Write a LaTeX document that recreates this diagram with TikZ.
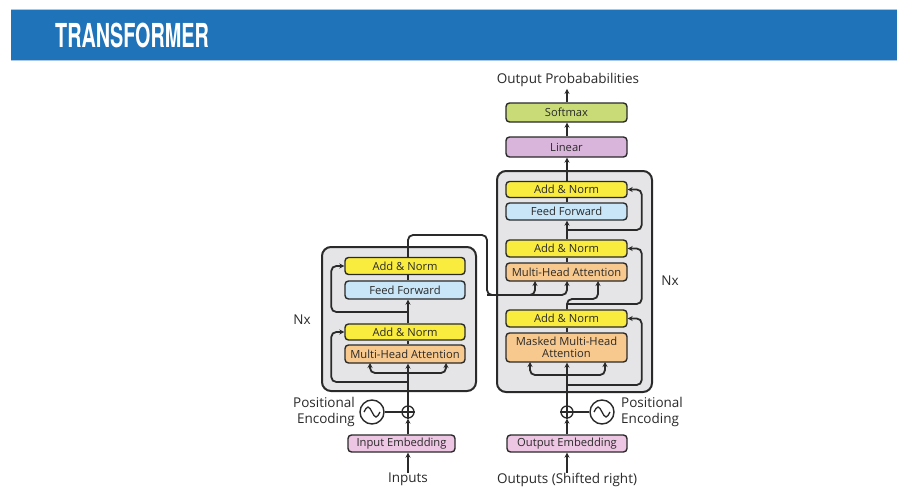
\documentclass[tikz,border=0pt]{standalone}
\usepackage{graphicx}
\usepackage{fontspec}
\setmainfont{Open Sans}
\newfontfamily\headfont{TeX Gyre Heros}
\usetikzlibrary{arrows.meta}

\definecolor{banner}{RGB}{31,115,185}
\definecolor{banneredge}{RGB}{170,200,230}
\definecolor{ink}{RGB}{42,42,42}
\definecolor{panel}{RGB}{229,229,231}
\definecolor{addnorm}{RGB}{250,236,62}
\definecolor{ffwd}{RGB}{200,230,248}
\definecolor{attn}{RGB}{248,201,142}
\definecolor{embed}{RGB}{236,198,226}
\definecolor{lin}{RGB}{217,181,219}
\definecolor{smax}{RGB}{200,219,118}

\tikzset{
  panelbox/.style={draw=ink, fill=panel, line width=2pt, rounded corners=9pt, inner sep=0pt},
  layer/.style={draw=ink, line width=1.4pt, rounded corners=3.5pt, minimum width=120pt,
    minimum height=17pt, inner sep=0pt, text=ink, font=\fontsize{11.2}{11.5}\selectfont, align=center},
  label/.style={text=ink, font=\fontsize{13.5}{16}\selectfont, inner sep=0pt},
  wire/.style={draw=ink, line width=1.8pt, rounded corners=5pt},
  arr/.style={wire, -{Stealth[length=5pt,width=5pt]}},
  adder/.style={circle, draw=ink, line width=1.3pt, minimum size=12pt, inner sep=0pt},
  wave/.style={circle, draw=ink, line width=1.4pt, minimum size=24pt, inner sep=0pt},
}

\begin{document}
\begin{tikzpicture}[x=1pt,y=-1pt]
\useasboundingbox (0,0) rectangle (897,487);
\fill[white] (0,0) rectangle (897,487);

% title banner
\fill[banner] (11,9) rectangle (897,60);
\draw[banneredge, line width=0.8pt] (11,9) -- (897,9) (11,60) -- (897,60);
\node[anchor=west, text=white, inner sep=0pt] (title) at (55,35)
  {\scalebox{0.6}[1]{\fontsize{33}{33}\headfont\bfseries TRANSFORMER}};

% ---------------- encoder ----------------
\node[panelbox, minimum width=154pt, minimum height=144pt] (encpanel) at (399,319) {};
\node[layer, fill=addnorm] (eAN2) at (405,266) {Add \& Norm};
\node[layer, fill=ffwd, minimum height=18pt] (eFF) at (405,290) {Feed Forward};
\node[layer, fill=addnorm, minimum height=16pt] (eAN1) at (405,332) {Add \& Norm};
\node[layer, fill=attn, minimum height=18pt] (eMHA) at (405,354) {Multi-Head Attention};
\node[layer, fill=embed, minimum width=107pt] (eEmb) at (401.5,443.5) {Input Embedding};
\node[adder] (ePlus) at (408,412) {};
\draw[ink, line width=1.2pt] (ePlus.north) -- (ePlus.south) (ePlus.west) -- (ePlus.east);
\node[wave] (ePE) at (372,412) {};
\draw[ink, line width=1.3pt] ([xshift=-8pt]ePE.center) sin ++(4,-5) cos ++(4,5) sin ++(4,5) cos ++(4,-5);
\node[label, anchor=east, align=right] (ePEtxt) at (355,412) {Positional\\Encoding};
\node[label] (eIn) at (408,479.5) {Inputs};
\node[label] (eNx) at (302,320) {Nx};

% ---------------- decoder ----------------
\node[panelbox, minimum width=155pt, minimum height=221pt] (decpanel) at (574.5,281.5) {};
\node[layer, fill=addnorm, minimum width=121pt, minimum height=16pt] (dAN3) at (566.5,189.5) {Add \& Norm};
\node[layer, fill=ffwd, minimum width=121pt] (dFF) at (566.5,211.5) {Feed Forward};
\node[layer, fill=addnorm, minimum width=121pt] (dAN2) at (566.5,248.5) {Add \& Norm};
\node[layer, fill=attn, minimum width=121pt, minimum height=18pt] (dMHA) at (566.5,272) {Multi-Head Attention};
\node[layer, fill=addnorm, minimum width=121pt] (dAN1) at (566.5,318.5) {Add \& Norm};
\node[layer, fill=attn, minimum width=121pt, minimum height=29pt,
      font=\fontsize{11.2}{12}\selectfont] (dMMHA) at (566.5,347.5) {Masked Multi-Head\\Attention};
\node[layer, fill=lin, minimum width=121pt, minimum height=20pt] (dLin) at (566.5,147) {Linear};
\node[layer, fill=smax, minimum width=121pt, minimum height=19pt] (dSm) at (566.5,112.5) {Softmax};
\node[label] (dProb) at (568,80) {Output Probababilities};
\node[layer, fill=embed] (dEmb) at (567,443.5) {Output Embedding};
\node[adder] (dPlus) at (567,412) {};
\draw[ink, line width=1.2pt] (dPlus.north) -- (dPlus.south) (dPlus.west) -- (dPlus.east);
\node[wave] (dPE) at (602,412) {};
\draw[ink, line width=1.3pt] ([xshift=-8pt]dPE.center) sin ++(4,-5) cos ++(4,5) sin ++(4,5) cos ++(4,-5);
\node[label, anchor=west, align=left] (dPEtxt) at (621,412) {Positional\\Encoding};
\node[label] (dOut) at (567,479.5) {Outputs (Shifted right)};
\node[label] (dNx) at (670,281) {Nx};

% ---------------- encoder wiring ----------------
\coordinate (eBr) at (408,373);
\coordinate (eQ) at (370,363);
\coordinate (eV) at (446,363);
\coordinate (eR1) at (408,382);
\coordinate (eR2) at (408,312);
\draw[arr] (eIn.north) -- (eIn |- eEmb.south);
\draw[arr] (ePlus |- eEmb.north) -- (ePlus.south);
\draw[wire] (ePE.east) -- (ePlus.west);
\draw[arr] (ePlus.north) -- (ePlus |- eMHA.south);
\draw[arr] (eBr) -| (eQ);
\draw[arr] (eBr) -| (eV);
\draw[arr] (eR1) -| ([xshift=-13pt]eAN1.west) -- (eAN1.west);
\draw[wire] (ePlus |- eMHA.north) -- (ePlus |- eAN1.south);
\draw[arr] (ePlus |- eAN1.north) -- (ePlus |- eFF.south);
\draw[arr] (eR2) -| ([xshift=-13pt]eAN2.west) -- (eAN2.west);
\draw[wire] (ePlus |- eFF.north) -- (ePlus |- eAN2.south);

% encoder output into the decoder attention
\coordinate (xA) at (487,235);
\coordinate (xB) at (487,295);
\coordinate (dK) at (535,281);
\coordinate (dV) at (567,281);
\draw[arr] (ePlus |- eAN2.north) |- (xA) -- (xB) -| (dV);
\draw[arr] (xB) -| (dK);

% ---------------- decoder wiring ----------------
\coordinate (dBr) at (567,375);
\coordinate (dQ1) at (530,362);
\coordinate (dV1) at (605,362);
\coordinate (dR1) at (567,385);
\coordinate (dQb) at (567,299);
\coordinate (dQ) at (598,281);
\coordinate (dR2) at (567,304);
\coordinate (dR3) at (567,230);
\draw[arr] (dOut.north) -- (dOut |- dEmb.south);
\draw[arr] (dPlus |- dEmb.north) -- (dPlus.south);
\draw[wire] (dPlus.east) -- (dPE.west);
\draw[arr] (dPlus.north) -- (dPlus |- dMMHA.south);
\draw[arr] (dBr) -| (dQ1);
\draw[arr] (dBr) -| (dV1);
\draw[arr] (dR1) -| ([xshift=14pt]dAN1.east) -- (dAN1.east);
\draw[wire] (dPlus |- dMMHA.north) -- (dPlus |- dAN1.south);
\draw[arr] (dPlus |- dAN1.north) -- (dQb) -| (dQ);
\draw[arr] (dR2) -| ([xshift=14pt]dAN2.east) -- (dAN2.east);
\draw[wire] (dPlus |- dMHA.north) -- (dPlus |- dAN2.south);
\draw[arr] (dPlus |- dAN2.north) -- (dPlus |- dFF.south);
\draw[arr] (dR3) -| ([xshift=14pt]dAN3.east) -- (dAN3.east);
\draw[wire] (dPlus |- dFF.north) -- (dPlus |- dAN3.south);
\draw[arr] (dPlus |- dAN3.north) -- (dPlus |- dLin.south);
\draw[arr] (dPlus |- dLin.north) -- (dPlus |- dSm.south);
\draw[arr] (dPlus |- dSm.north) -- ([yshift=-2pt]dPlus |- dProb.south);
\end{tikzpicture}
\end{document}
